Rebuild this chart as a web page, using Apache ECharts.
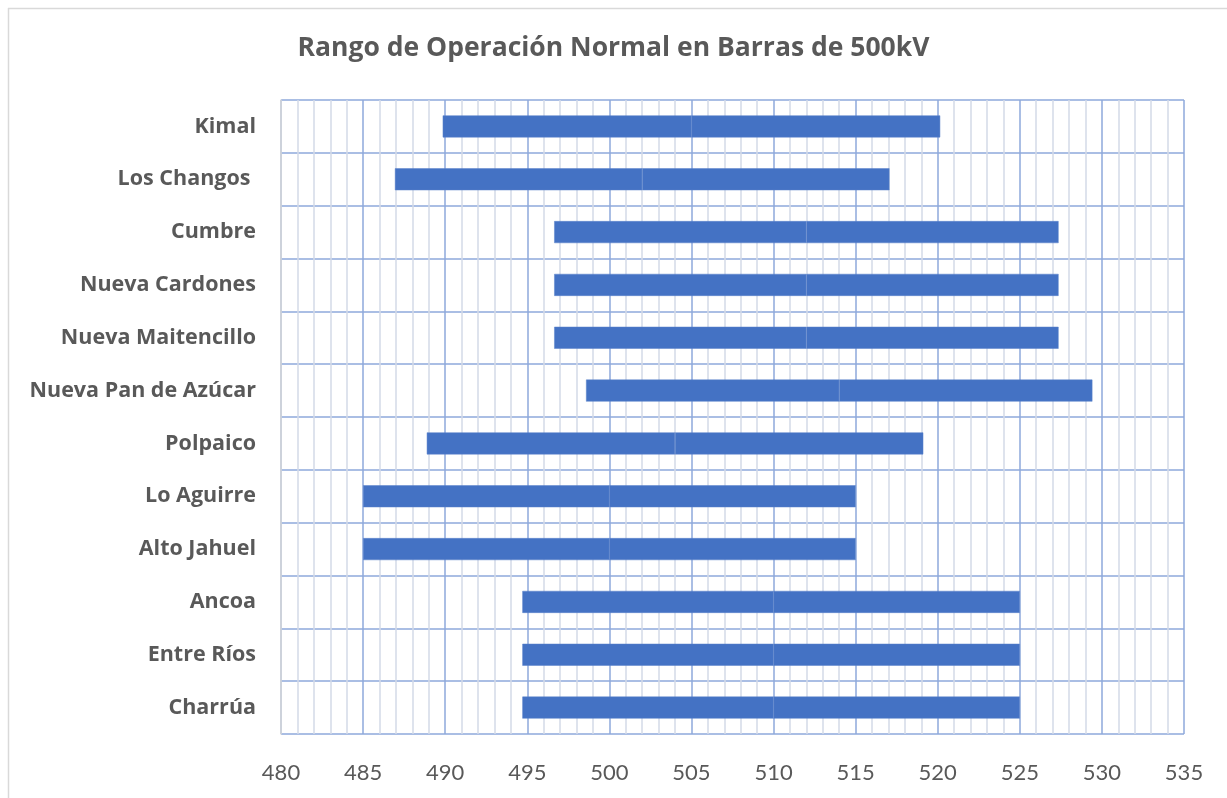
<!DOCTYPE html>
<html>
<head>
<meta charset="utf-8">
<script src="https://cdn.jsdelivr.net/npm/echarts@6/dist/echarts.min.js"></script>
<style>
html,body{margin:0;padding:0;background:#fff;}
#chart{width:1227px;height:798px;}
</style>
</head>
<body>
<div id="chart"></div>
<script>
const titleText = 'Rango de Operación Normal en Barras de 500kV';
const categories = ['Kimal','Los Changos ','Cumbre','Nueva Cardones','Nueva Maitencillo','Nueva Pan de Azúcar','Polpaico','Lo Aguirre','Alto Jahuel','Ancoa','Entre Ríos','Charrúa'];
const lowVals  = [489.85, 486.94, 496.64, 496.64, 496.64, 498.58, 488.88, 485, 485, 494.7, 494.7, 494.7];
const midVals  = [505, 502, 512, 512, 512, 514, 504, 500, 500, 510, 510, 510];
const highVals = [520.15, 517.06, 527.36, 527.36, 527.36, 529.42, 519.12, 515, 515, 525, 525, 525];
const xMin = 480, xMax = 535, xStep = 5;

const lowerSeg = midVals.map((m, i) => +(m - lowVals[i]).toFixed(3));
const upperSeg = highVals.map((h, i) => +(h - midVals[i]).toFixed(3));

const chart = echarts.init(document.getElementById('chart'), null, {renderer: 'canvas'});
const font = '"Open Sans", Lato, sans-serif';
const barStyle = {color: '#4472C4', borderColor: '#5A82CB', borderWidth: 0.5};

chart.setOption({
  animation: false,
  backgroundColor: '#fff',
  title: {
    text: titleText,
    left: 'center',
    top: 30,
    textStyle: {fontFamily: font, fontSize: 26.5, fontWeight: 'bold', color: '#595959'}
  },
  graphic: [
    {type: 'line', shape: {x1: 8, y1: 8.5, x2: 1227, y2: 8.5}, style: {stroke: '#D9D9D9', lineWidth: 1.5}, silent: true},
    {type: 'line', shape: {x1: 8.5, y1: 8, x2: 8.5, y2: 798}, style: {stroke: '#D9D9D9', lineWidth: 1.5}, silent: true}
  ],
  grid: {left: 281, right: 43, top: 100, bottom: 64, containLabel: false},
  xAxis: {
    type: 'value',
    min: xMin, max: xMax, interval: xStep,
    axisLine: {show: false},
    axisTick: {show: false},
    axisLabel: {fontFamily: 'Lato, sans-serif', fontSize: 22, color: '#595959', margin: 28},
    splitLine: {show: true, lineStyle: {color: '#8EA9DB', width: 1.5}},
    minorTick: {show: false, splitNumber: 5},
    minorSplitLine: {show: true, lineStyle: {color: '#D3DAE8', width: 1.5}}
  },
  yAxis: {
    type: 'category',
    data: categories,
    inverse: true,
    axisLine: {show: true, lineStyle: {color: '#D9D9D9', width: 1.5}},
    axisTick: {show: false},
    axisLabel: {fontFamily: font, fontSize: 21.5, fontWeight: 'bold', color: '#595959', margin: 25},
    splitLine: {show: true, lineStyle: {color: '#8EA9DB', width: 1.5}}
  },
  series: [
    {type: 'bar', stack: 'r', data: lowVals, barWidth: 22, itemStyle: {color: 'rgba(0,0,0,0)'}, silent: true},
    {type: 'bar', stack: 'r', data: lowerSeg, barWidth: 22, itemStyle: barStyle},
    {type: 'bar', stack: 'r', data: upperSeg, barWidth: 22, itemStyle: barStyle}
  ]
});
</script>
</body>
</html>
